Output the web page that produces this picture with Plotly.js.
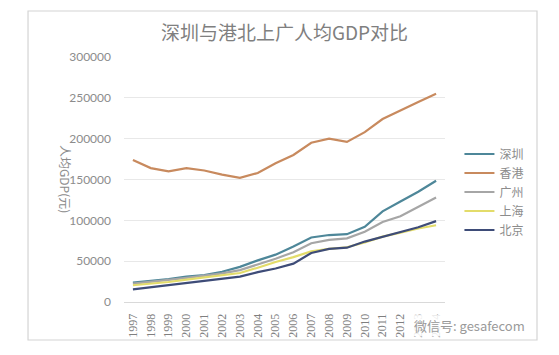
<!DOCTYPE html>
<html>
<head>
<meta charset="utf-8">
<script src="https://cdn.plot.ly/plotly-3.0.1.min.js"></script>
<style>
html,body{margin:0;padding:0;background:#fff;}
#chart{width:559px;height:355px;}
</style>
</head>
<body>
<div id="chart"></div>
<script>
const years = ['1997','1998','1999','2000','2001','2002','2003','2004','2005','2006','2007','2008','2009','2010','2011','2012','2013','2014'];
const shenzhen  = [23700,25700,28000,31000,33000,37000,43000,51000,58000,68000,79000,82000,83000,92000,111000,123000,135000,148500];
const hongkong  = [174000,164000,160000,164000,161000,156000,152000,158000,170000,180000,195000,200000,196000,208000,224000,235000,245000,255000];
const guangzhou = [22500,24500,27000,29500,32000,35000,39000,46000,53000,61000,72000,76000,78000,86000,98000,105000,117000,128000];
const shanghai  = [20500,22500,24500,27500,30000,32500,35500,42000,49000,55000,62000,65000,67000,73000,80000,85000,90000,94000];
const beijing   = [15500,18000,20500,23000,26000,28500,31000,36500,41000,47000,60000,65000,66500,74000,80000,86000,91500,99000];
const seriesNames = ['深圳','香港','广州','上海','北京'];
const title = '深圳与港北上广人均GDP对比';
const yTitle = '人均GDP(元)';
const watermark = '微信号: gesafecom';

const colors = ['#4E8799','#C88A5E','#A6A6A6','#E3DC6A','#3E4C78'];
const allSeries = [shenzhen, hongkong, guangzhou, shanghai, beijing];

const traces = allSeries.map((vals, i) => ({
  type: 'scatter', mode: 'lines', name: seriesNames[i],
  x: years, y: vals,
  line: {color: colors[i], width: 2.2}
}));

const layout = {
  width: 559, height: 355,
  margin: {l: 124, r: 114, t: 57, b: 53},
  paper_bgcolor: '#ffffff', plot_bgcolor: 'rgba(0,0,0,0)',
  showlegend: true,
  legend: {
    x: 1.045, y: 0.449, xanchor: 'left', yanchor: 'middle',
    font: {family: 'Noto Sans CJK SC', size: 12, color: '#8C8C8C'},
    bgcolor: 'rgba(0,0,0,0)', itemwidth: 30, tracegroupgap: 0
  },
  title: {
    text: title, x: 0.5, xref: 'paper', y: 0.925, yref: 'container',
    font: {family: 'Noto Sans CJK SC', size: 19, color: '#7F7F7F'}
  },
  xaxis: {
    type: 'category', range: [-0.5, 17.5],
    tickangle: -90, showgrid: false, ticks: '',
    showline: true, linecolor: '#D9D9D9', linewidth: 1,
    tickfont: {family: 'Liberation Serif', size: 12, color: '#7F7F7F'},
    ticklabelstandoff: 6, zeroline: false
  },
  yaxis: {
    range: [0, 300000], dtick: 50000, tickformat: 'd',
    showgrid: true, gridcolor: '#E8E8E8', gridwidth: 1,
    zeroline: false, showline: false, ticks: '',
    tickfont: {family: 'Lato', size: 12, color: '#8C8C8C'},
    ticklabelstandoff: 12
  },
  shapes: [{
    type: 'rect', xref: 'paper', yref: 'paper', layer: 'below',
    x0: -0.299, x1: 1.2866, y0: -0.1551, y1: 1.1878,
    line: {color: '#D4D4D4', width: 1.2}, fillcolor: 'rgba(0,0,0,0)'
  }],
  annotations: [
    {
      text: yTitle, xref: 'paper', yref: 'paper', x: -0.215, y: 0.5,
      showarrow: false, textangle: 90,
      font: {family: 'Noto Sans CJK SC', size: 12, color: '#8C8C8C'}
    },
    {
      text: watermark, xref: 'paper', yref: 'paper', x: 1.257, y: -0.094,
      xanchor: 'right', yanchor: 'middle', showarrow: false, bgcolor: 'rgba(255,255,255,0.85)',
      font: {family: 'Noto Sans CJK SC', size: 13, color: '#9A9A9A'}
    }
  ]
};

Plotly.newPlot('chart', traces, layout, {displayModeBar: false, staticPlot: true});
</script>
</body>
</html>
